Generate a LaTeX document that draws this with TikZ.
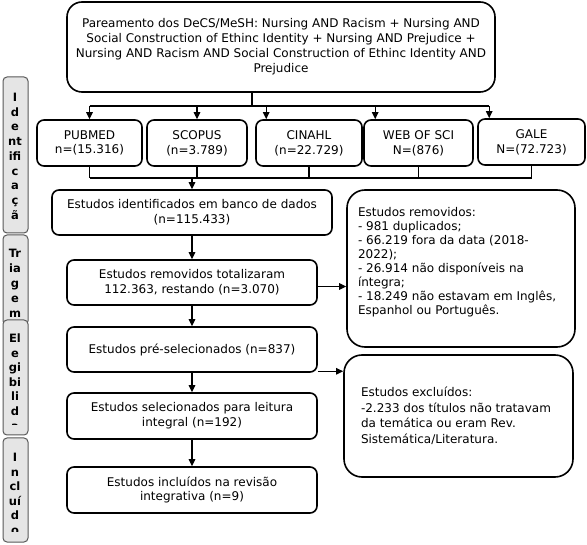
\documentclass[tikz,border=0pt]{standalone}
\usepackage{fontspec}
\setmainfont{DejaVu Sans}
\newfontfamily\labfont{DejaVu Sans}
\usetikzlibrary{arrows.meta,calc}
\begin{document}
\begin{tikzpicture}[x=1pt,y=-1pt,
  box/.style={draw, line width=1.6pt, rounded corners=7pt, inner sep=0pt, align=center,
    font=\fontsize{12}{14.7}\selectfont},
  topbox/.style={box, rounded corners=15pt, font=\fontsize{12}{15}\selectfont},
  rbox/.style={draw, line width=1.6pt, rounded corners=18pt, inner sep=0pt},
  lab/.style={draw=black!65, fill=black!10, line width=1pt, rounded corners=4pt,
    minimum width=25pt, inner sep=0pt},
  labt/.style={anchor=base, inner sep=0pt, font=\labfont\bfseries\fontsize{11.5}{12}\selectfont},
  conn/.style={line width=1.1pt},
  arr/.style={conn, -{Triangle[length=7pt,width=6.5pt]}},
]
\fill[white] (0,0) rectangle (587,545);
\useasboundingbox (0,0) rectangle (587,545);

% top box
\node[topbox, minimum width=428pt, minimum height=90pt] (top) at (281,47)
  {Pareamento dos DeCS/MeSH: Nursing AND Racism + Nursing AND\\
   Social Construction of Ethinc Identity + Nursing AND Prejudice +\\
   Nursing AND Racism AND Social Construction of Ethinc Identity AND\\
   Prejudice};

% databases
\node[box, minimum width=105pt, minimum height=46pt] (pubmed) at (89.5,143) {PUBMED\\n=(15.316)};
\node[box, minimum width=100pt, minimum height=46pt] (scopus) at (197,143) {SCOPUS\\(n=3.789)};
\node[box, minimum width=106pt, minimum height=46pt] (cinahl) at (309,143) {CINAHL\\(n=22.729)};
\node[box, minimum width=109pt, minimum height=46pt] (wos) at (418.5,143) {WEB OF SCI\\N=(876)};
\node[box, minimum width=107pt, minimum height=46pt] (gale) at (531.5,142) {GALE\\N=(72.723)};

% main chain
\node[box, minimum width=280pt, minimum height=45pt] (ident) at (192,212.5)
  {Estudos identificados em banco de dados\\(n=115.433)};
\node[box, minimum width=250pt, minimum height=45pt] (rem) at (192,282.5)
  {Estudos removidos totalizaram\\112.363, restando (n=3.070)};
\node[box, minimum width=250pt, minimum height=45pt] (pre) at (192,349.5)
  {Estudos pré-selecionados (n=837)};
\node[box, minimum width=250pt, minimum height=46pt] (sel) at (192,416)
  {Estudos selecionados para leitura\\integral (n=192)};
\node[box, minimum width=250pt, minimum height=46pt] (inc) at (192,490)
  {Estudos incluídos na revisão\\integrativa (n=9)};

% right boxes
\node[rbox, minimum width=228pt, minimum height=157pt] (remd) at (461,268.5)
  {\parbox[c][157pt][t]{206pt}{\fontsize{12}{14}\selectfont\raggedright
   \rule{0pt}{27pt}Estudos removidos:\\
   - 981 duplicados;\\
   - 66.219 fora da data (2018-\\
   2022);\\
   - 26.914 não disponíveis na\\
   íntegra;\\
   - 18.249 não estavam em Inglês,\\
   Espanhol ou Português.}};
\node[rbox, minimum width=229pt, minimum height=122pt] (excl) at (458.5,416)
  {\parbox[c][122pt][c]{195pt}{\fontsize{12}{15.5}\selectfont\raggedright
   Estudos excluídos:\\
   -2.233 dos títulos não tratavam\\
   da temática ou eram Rev.\\
   Sistemática/Literatura.}};

% connectors top -> databases
\coordinate (split) at (252,106);
\draw[conn] (split |- top.south) -- (split);
\draw[conn] (pubmed.north |- split) -- ([xshift=12pt]gale.north west |- split);
\draw[arr] (pubmed.north |- split) -- (pubmed.north);
\draw[arr] (scopus.north |- split) -- (scopus.north);
\draw[arr] ([xshift=11pt]cinahl.north west |- split) -- ([xshift=11pt]cinahl.north west);
\draw[arr] ([xshift=12pt]wos.north west |- split) -- ([xshift=12pt]wos.north west);
\draw[arr] ([xshift=12pt]gale.north west |- split) -- ([xshift=12pt]gale.north west);

% databases -> identified
\coordinate (join) at (192,178);
\foreach \n in {pubmed,scopus,cinahl,wos,gale}
  \draw[conn] (\n.south) -- (\n.south |- join);
\draw[conn] (pubmed.south |- join) -- (gale.south |- join);
\draw[arr] (join) -- (ident.north);

% chain
\draw[arr] (ident.south) -- (rem.north);
\draw[arr] (rem.south) -- (pre.north);
\draw[arr] (pre.south) -- (sel.north);
\draw[arr] (sel.south) -- (inc.north);
\draw[arr] ([yshift=-4pt]rem.east) -- ([yshift=-4pt]rem.east -| remd.west);
\draw[arr] ([yshift=1.5pt]pre.south east) -- ([yshift=1.5pt]pre.south east -| excl.west);

% side labels
\node[lab, minimum height=156pt] (l1) at (15.5,155) {};
\node[lab, minimum height=90pt] (l2) at (15.5,280) {};
\node[lab, minimum height=115pt] (l3) at (15.5,377.5) {};
\node[lab, minimum height=104pt] (l4) at (15.5,490) {};
\foreach \t [count=\i] in {I,d,e,nt,ifi,c,a,ç,ã}
  \node[labt] (la\i) at (15,{101.5+14.75*(\i-1)}) {\t};
\foreach \t [count=\i] in {Tr,ia,g,e,m}
  \node[labt] (lb\i) at (15,{257.5+15*(\i-1)}) {\t};
\begin{scope}
  \clip (0,320) rectangle (30,424.5);
  \foreach \t [count=\i] in {El,e,gi,bi,li,d,a}
    \node[labt] (lc\i) at (15,{342.5+14.6*(\i-1)}) {\t};
\end{scope}
\begin{scope}
  \clip (0,438) rectangle (30,531);
  \foreach \t [count=\i] in {I,n,cl,uí,d,o}
    \node[labt] (ld\i) at (15,{461.5+14.6*(\i-1)}) {\t};
\end{scope}
\end{tikzpicture}
\end{document}
